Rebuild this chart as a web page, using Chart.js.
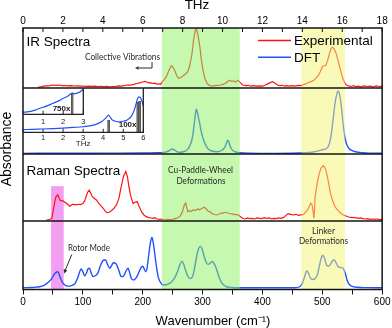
<!DOCTYPE html>
<html>
<head>
<meta charset="utf-8">
<script src="https://cdn.jsdelivr.net/npm/chart.js@4/dist/chart.umd.min.js"></script>
<style>
  html, body { margin: 0; padding: 0; background: #fff; }
  #wrap { position: relative; width: 392px; height: 328px; overflow: hidden; }
  #wrap canvas { position: absolute; }
</style>
</head>
<body>
<div id="wrap">
  <canvas id="main" width="392" height="328" style="left:0;top:0"></canvas>
  <canvas id="inset" width="140" height="70" style="left:13px;top:80px"></canvas>
  <canvas id="inset2" width="78" height="48" style="left:13px;top:80px"></canvas>
</div>
<script>
// ── Данные: [волновое число см⁻¹, интенсивность в долях панели] ───────────
const irExp = [
  [25,0.01],[30,0.02],[35,0.03],[40,0.035],[45,0.04],[50,0.05],[55,0.045],[60,0.05],[65,0.04],[70,0.042],
  [75,0.035],[80,0.04],[85,0.033],[90,0.036],[95,0.03],[100,0.033],[105,0.028],[110,0.032],[115,0.026],[120,0.03],
  [125,0.025],[130,0.028],[135,0.022],[140,0.026],[145,0.02],[150,0.025],[155,0.028],[160,0.035],[165,0.03],[170,0.042],
  [175,0.05],[180,0.048],[185,0.06],[190,0.075],[195,0.085],[200,0.1],[203,0.11],[207,0.1],[210,0.085],[213,0.09],
  [216,0.075],[220,0.08],[224,0.065],[228,0.07],[230,0.06],[232,0.095],[236,0.14],[240,0.2],[244,0.3],[248,0.37],
  [251,0.34],[254,0.28],[257,0.2],[260,0.16],[263,0.17],[267,0.2],[271,0.23],[275,0.27],[278,0.35],[282,0.55],
  [285,0.8],[288,0.97],[290,0.98],[292,0.9],[295,0.72],[298,0.47],[301,0.28],[304,0.15],[308,0.07],[312,0.04],
  [316,0.033],[320,0.038],[325,0.045],[330,0.05],[334,0.06],[338,0.08],[342,0.11],[345,0.13],[348,0.11],[351,0.12],
  [355,0.1],[359,0.13],[363,0.09],[367,0.05],[372,0.04],[376,0.045],[380,0.033],[385,0.04],[390,0.03],[395,0.035],
  [400,0.03],[404,0.045],[408,0.065],[413,0.09],[417,0.105],[421,0.08],[425,0.05],[429,0.04],[433,0.045],[437,0.03],
  [441,0.038],[445,0.03],[450,0.04],[455,0.033],[460,0.045],[465,0.04],[470,0.06],[474,0.075],[478,0.095],[482,0.11],
  [486,0.13],[489,0.16],[493,0.2],[497,0.28],[500,0.355],[503,0.37],[506,0.38],[509,0.46],[512,0.58],[515,0.66],
  [517,0.68],[520,0.65],[523,0.58],[526,0.47],[529,0.35],[532,0.24],[535,0.14],[539,0.06],[543,0.035],[548,0.025],
  [552,0.04],[556,0.022],[560,0.03],[565,0.018],[570,0.035],[575,0.025],[580,0.03],[585,0.02],[590,0.035],[595,0.025],[600,0.03]
];
const irDft = [
  [0,0.01],[50,0.011],[100,0.012],[150,0.013],[200,0.015],[225,0.018],[235,0.022],[241,0.035],[246,0.06],[249.5,0.076],
  [253,0.06],[257,0.035],[261,0.025],[266,0.03],[271,0.045],[275,0.07],[279,0.13],[283,0.25],[286,0.45],[288,0.6],
  [289.5,0.68],[291,0.64],[293,0.56],[295,0.47],[298,0.33],[300,0.26],[303,0.18],[308,0.09],[312,0.06],[317,0.042],
  [323,0.035],[328,0.04],[333,0.06],[337,0.1],[340,0.17],[342,0.21],[344,0.18],[346,0.12],[348,0.08],[351,0.05],
  [355,0.03],[362,0.02],[380,0.013],[420,0.01],[450,0.012],[470,0.018],[485,0.03],[495,0.05],[500,0.065],[505,0.075],
  [509,0.1],[512,0.16],[515,0.3],[518,0.52],[521,0.75],[524,0.9],[526.5,0.955],[529,0.9],[531,0.78],[533,0.62],
  [535,0.44],[538,0.24],[541,0.14],[545,0.08],[550,0.05],[557,0.03],[567,0.02],[580,0.014],[600,0.011]
];
const ramanExp = [
  [39,0.015],[44,0.02],[48,0.04],[50.5,0.16],[53,0.28],[55,0.36],[58,0.39],[60,0.35],[62,0.31],[65,0.3],
  [67,0.3],[70,0.28],[73,0.26],[76,0.24],[78,0.22],[81,0.24],[84,0.25],[87,0.24],[90,0.245],[93,0.25],
  [96,0.245],[100,0.26],[103,0.3],[106,0.38],[108,0.43],[110.5,0.46],[113,0.42],[116,0.36],[119,0.34],[123,0.31],
  [126,0.27],[130,0.23],[134,0.19],[137,0.15],[140,0.125],[144,0.13],[148,0.155],[152,0.19],[156,0.24],[160,0.33],
  [164,0.51],[168,0.67],[171.7,0.74],[174.5,0.66],[177,0.51],[180,0.37],[184,0.26],[187,0.28],[190.5,0.29],[194,0.22],
  [198,0.14],[202,0.09],[206,0.065],[210,0.05],[214,0.045],[217,0.04],[220,0.05],[224,0.03],[228,0.025],[232,0.03],
  [237,0.015],[241,0.025],[245,0.02],[250,0.025],[254,0.035],[258,0.045],[262,0.065],[265,0.11],[267,0.16],[269.5,0.24],
  [271.7,0.27],[273.5,0.2],[275.5,0.14],[278,0.15],[281,0.145],[284,0.165],[287,0.16],[290,0.17],[293,0.18],[295,0.165],
  [299,0.19],[303,0.205],[306,0.18],[309,0.15],[312,0.14],[316,0.11],[319,0.1],[323,0.09],[327,0.1],[331,0.115],
  [335,0.12],[339.5,0.13],[343,0.115],[348,0.105],[352,0.1],[356,0.095],[360,0.09],[364,0.06],[367,0.04],[371,0.03],
  [375,0.045],[379,0.035],[383,0.04],[387,0.03],[391,0.045],[395,0.04],[399,0.035],[403,0.05],[407,0.04],[411,0.045],
  [415,0.03],[419,0.04],[423,0.035],[427,0.045],[431,0.04],[435,0.05],[439,0.08],[443,0.11],[447,0.1],[451,0.09],
  [456,0.1],[460,0.085],[464,0.09],[467,0.09],[471,0.12],[475.5,0.165],[479,0.23],[481,0.265],[483,0.24],[484.5,0.15],
  [486,0.04],[487,0.15],[488,0.36],[490,0.48],[492,0.59],[495,0.71],[498,0.79],[501.7,0.825],[504,0.8],[506,0.76],
  [509,0.64],[511.7,0.51],[514,0.4],[517,0.31],[520,0.24],[523,0.19],[527,0.15],[531,0.115],[535,0.09],[539.5,0.075],
  [544,0.06],[548,0.055],[552,0.05],[556,0.05],[560,0.04],[564,0.045],[568,0.035],[572,0.03],[576,0.035],[580,0.025],
  [584,0.03],[588,0.025],[592,0.03],[596,0.02],[600,0.025]
];
const ramanDft = [
  [0,0.026],[15,0.03],[28,0.04],[35,0.06],[40,0.09],[44,0.12],[48,0.16],[52,0.22],[55,0.25],[58,0.26],
  [60.5,0.22],[63,0.16],[66,0.1],[70,0.066],[74,0.05],[78,0.05],[82,0.06],[87,0.09],[91,0.16],[94,0.24],
  [97,0.3],[100,0.26],[103,0.2],[106,0.24],[108.5,0.3],[111,0.31],[114,0.24],[117,0.19],[121,0.2],[125,0.24],
  [129,0.34],[132,0.4],[135,0.43],[138,0.43],[141,0.37],[145,0.31],[148,0.35],[151,0.39],[155,0.38],[157,0.35],
  [160,0.28],[164,0.19],[166.5,0.19],[169,0.21],[172,0.27],[175.5,0.31],[178,0.25],[181,0.16],[184,0.14],[187,0.15],
  [191,0.2],[195,0.28],[198,0.33],[200,0.34],[202.5,0.3],[205,0.26],[207,0.3],[210,0.5],[213,0.69],[215.5,0.76],
  [218,0.66],[221,0.46],[223.5,0.3],[226,0.18],[230,0.1],[234,0.066],[239,0.07],[245,0.09],[250,0.13],[254,0.18],
  [258,0.26],[262,0.36],[265.5,0.41],[268,0.38],[271,0.3],[275,0.2],[279,0.16],[282,0.17],[285,0.24],[288,0.38],
  [291,0.52],[294,0.61],[296.5,0.63],[299,0.6],[302,0.5],[305,0.42],[308,0.37],[311,0.37],[314,0.4],[316.5,0.41],
  [319,0.38],[322,0.33],[325,0.25],[328,0.17],[331,0.11],[335,0.07],[340,0.04],[348,0.03],[360,0.026],[455,0.026],
  [462,0.04],[466,0.08],[470,0.17],[474,0.27],[477,0.24],[480,0.17],[484,0.145],[488,0.16],[492,0.22],[496,0.38],
  [499,0.48],[501,0.5],[503.5,0.46],[507,0.36],[510,0.34],[513,0.36],[517,0.42],[520,0.43],[523,0.39],[526,0.34],
  [530,0.32],[533,0.32],[536,0.29],[539,0.22],[542,0.12],[546,0.066],[550,0.045],[558,0.032],[570,0.027],[600,0.026]
];
// Врезка (ТГц): DFT-спектр и «палочки» мод
const insetCurve = [
  [0,0.06],[0.5,0.068],[1,0.075],[1.5,0.084],[2,0.095],[2.5,0.11],[3,0.125],[3.4,0.15],[3.7,0.19],[3.95,0.25],
  [4.1,0.31],[4.2,0.36],[4.27,0.39],[4.35,0.34],[4.45,0.28],[4.6,0.25],[4.8,0.235],[5,0.25],[5.2,0.28],[5.4,0.36],
  [5.55,0.5],[5.65,0.66],[5.72,0.77],[5.78,0.8],[5.85,0.78],[5.92,0.72],[6,0.59]
];
const insetSticks = [[4.27,0.27],[5.72,0.68],[5.82,0.7]];
const zoomCurve = [
  [0,0.076],[0.3,0.1],[0.6,0.16],[0.85,0.23],[1.2,0.32],[1.5,0.42],[1.8,0.52],[2,0.61],[2.2,0.68],[2.35,0.76],
  [2.45,0.81],[2.55,0.78],[2.7,0.81],[2.85,0.86],[3,0.96]
];
const zoomSticks = [[2.45,0.8]];

// Диапазоны выделенных областей, см⁻¹
const rotorBand   = [47, 68];
const paddleBand  = [232, 362];
const linkerBand  = [465, 538];

const seriesLabels = ['Experimental', 'DFT'];

// ── Стиль ───────────────────────────────────────────────────────────────
const FONT = "'Liberation Sans', Arial, sans-serif";
const NOTE = "Lato, 'Open Sans', sans-serif";
const RED  = '#ff1212';
const BLUE = '#2050ff';
const INK  = '#141414';

const toXY = pts => pts.map(([x, y]) => ({ x, y }));

function lineSet(label, pts, color, axis, smooth) {
  return {
    label,
    data: toXY(pts),
    yAxisID: axis,
    borderColor: color,
    borderWidth: smooth ? 1.4 : 1.2,
    pointRadius: 0,
    tension: 0,
    cubicInterpolationMode: smooth ? 'monotone' : 'default',
    fill: false,
  };
}

function seg(ctx, x1, y1, x2, y2) {
  ctx.beginPath(); ctx.moveTo(x1, y1); ctx.lineTo(x2, y2); ctx.stroke();
}

function arrowHead(ctx, x, y, ang, size) {
  ctx.beginPath();
  ctx.moveTo(x, y);
  ctx.lineTo(x - size * Math.cos(ang - 0.45), y - size * Math.sin(ang - 0.45));
  ctx.lineTo(x - size * Math.cos(ang + 0.45), y - size * Math.sin(ang + 0.45));
  ctx.closePath();
  ctx.fill();
}

// ── Полосы, рамка, подписи ──────────────────────────────────────────────
const decorPlugin = {
  id: 'decor',
  beforeDatasetsDraw(chart) {
    const { ctx, chartArea: ca, scales } = chart;
    const x = scales.x;
    const top = scales.yRamExp.getPixelForValue(0.52);
    const l = x.getPixelForValue(rotorBand[0]);
    const r = x.getPixelForValue(rotorBand[1]);
    ctx.save();
    ctx.fillStyle = 'rgb(243,158,240)';
    ctx.fillRect(l, top, r - l, ca.bottom - top);
    ctx.restore();
  },
  afterDatasetsDraw(chart) {
    const { ctx, chartArea: ca, scales } = chart;
    const x = scales.x;
    ctx.save();

    // зелёная и жёлтая полосы поверх кривых (полупрозрачные)
    ctx.globalAlpha = 0.5;
    for (const [band, col] of [[paddleBand, 'rgb(141,241,97)'], [linkerBand, 'rgb(245,245,113)']]) {
      const l = x.getPixelForValue(band[0]);
      const r = x.getPixelForValue(band[1]);
      ctx.fillStyle = col;
      ctx.fillRect(l, ca.top, r - l, ca.bottom - ca.top);
    }
    ctx.globalAlpha = 1;

    // рамка и разделители панелей
    ctx.strokeStyle = INK;
    ctx.lineWidth = 1.5;
    ctx.strokeRect(ca.left, ca.top, ca.right - ca.left, ca.bottom - ca.top);
    for (const id of ['yIrExp', 'yIrDft', 'yRamExp']) {
      const yb = Math.round(scales[id].bottom * 2) / 2;
      seg(ctx, ca.left, yb, ca.right, yb);
    }
    // верхние засечки внутрь
    ctx.lineWidth = 1;
    for (const t of scales.xThz.ticks) {
      const px = scales.xThz.getPixelForValue(t.value);
      seg(ctx, px, ca.top, px, ca.top + 4);
    }

    // заголовки панелей
    ctx.fillStyle = '#000';
    ctx.textAlign = 'left';
    ctx.textBaseline = 'alphabetic';
    ctx.font = `13.5px ${FONT}`;
    ctx.fillText('IR Spectra', ca.left + 3.5, 45.5);
    ctx.fillText('Raman Spectra', ca.left + 3.5, 175);

    // легенда
    const legend = [[seriesLabels[0], RED, 40.5, 44.8], [seriesLabels[1], BLUE, 57.3, 61.6]];
    for (const [txt, col, ly, ty] of legend) {
      ctx.strokeStyle = col;
      ctx.lineWidth = 1.4;
      seg(ctx, 258, ly, 291, ly);
      ctx.fillStyle = '#000';
      ctx.fillText(txt, 294, ty);
    }

    // аннотации
    ctx.fillStyle = '#2a2a2a';
    ctx.strokeStyle = '#2a2a2a';
    ctx.textAlign = 'center';
    ctx.font = `9.5px ${NOTE}`;
    ctx.fillText('Collective Vibrations', 122.5, 60, 75);
    ctx.fillText('Cu-Paddle-Wheel', 200.5, 173.3, 65);
    ctx.fillText('Deformations', 201, 183.5, 49);
    ctx.fillText('Linker', 323.5, 234.2, 23);
    ctx.fillText('Deformations', 323.5, 244.3, 49);
    ctx.fillText('Rotor Mode', 89, 250.5, 42);

    // стрелка «Collective Vibrations»
    ctx.lineWidth = 1;
    ctx.beginPath();
    ctx.moveTo(152, 62); ctx.lineTo(152, 68); ctx.lineTo(139, 68);
    ctx.stroke();
    arrowHead(ctx, 135, 68, Math.PI, 4);

    // стрелка «Rotor Mode»
    const ax1 = x.getPixelForValue(81.5), ay1 = 254.5;
    const ax2 = x.getPixelForValue(68.5), ay2 = 273.5;
    seg(ctx, ax1, ay1, ax2 + 1.2, ay2 - 3.2);
    arrowHead(ctx, ax2, ay2, Math.atan2(ay2 - ay1, ax2 - ax1), 4.5);

    // подпись оси Y и оси X
    ctx.fillStyle = '#000';
    ctx.font = `14px ${FONT}`;
    ctx.save();
    ctx.translate(10.8, 149);
    ctx.rotate(-Math.PI / 2);
    ctx.fillText('Absorbance', 0, 0);
    ctx.restore();
    ctx.font = `13px ${FONT}`;
    ctx.fillText('Wavenumber (cm⁻¹)', 213, 325);
    ctx.font = `13.5px ${FONT}`;
    ctx.fillText('THz', 197, 8.5);

    ctx.restore();
  },
};

const tickFont = { family: FONT, size: 10 };

new Chart(document.getElementById('main'), {
  type: 'line',
  data: {
    datasets: [
      lineSet('IR Experimental', irExp, RED, 'yIrExp', false),
      lineSet('IR DFT', irDft, BLUE, 'yIrDft', true),
      lineSet('Raman Experimental', ramanExp, RED, 'yRamExp', false),
      lineSet('Raman DFT', ramanDft, BLUE, 'yRamDft', true),
    ],
  },
  options: {
    responsive: false,
    animation: false,
    events: [],
    layout: { padding: { left: 23, right: 9, top: 0, bottom: 0 } },
    plugins: { legend: { display: false }, tooltip: { enabled: false } },
    scales: {
      x: {
        type: 'linear', position: 'bottom', min: 0, max: 600,
        border: { display: false },
        grid: { drawOnChartArea: false, drawTicks: true, tickLength: 5, color: INK },
        ticks: {
          stepSize: 50, autoSkip: false, maxRotation: 0, padding: 1.5, color: '#000', font: tickFont,
          callback: v => (v % 100 === 0 ? v : ''),
        },
        afterFit: s => { s.height = 38.5; },
      },
      xThz: {
        type: 'linear', position: 'top', min: 0, max: 18,
        border: { display: false },
        grid: { display: false, drawTicks: false },
        ticks: {
          stepSize: 1, autoSkip: false, maxRotation: 0, padding: 0.3, color: '#000', font: tickFont,
          callback: v => (v % 2 === 0 ? v : ''),
        },
        afterFit: s => { s.height = 28; },
      },
      // порядок: нижняя панель первой, верхняя последней
      yRamDft: { display: false, min: 0, max: 1, stack: 'panels', stackWeight: 68.5, position: 'left' },
      yRamExp: { display: false, min: 0, max: 1, stack: 'panels', stackWeight: 67,   position: 'left' },
      yIrDft:  { display: false, min: 0, max: 1, stack: 'panels', stackWeight: 66,   position: 'left' },
      yIrExp:  { display: false, min: 0, max: 1, stack: 'panels', stackWeight: 60,   position: 'left' },
    },
  },
  plugins: [decorPlugin],
});

// ── Врезки ──────────────────────────────────────────────────────────────
const insetFrame = {
  id: 'insetFrame',
  afterDatasetsDraw(chart, args, opts) {
    const { ctx, chartArea: ca, scales: { x, y } } = chart;
    ctx.save();
    ctx.strokeStyle = '#222';
    ctx.lineWidth = 1.3;
    ctx.beginPath();
    ctx.moveTo(ca.left, ca.bottom); ctx.lineTo(ca.right, ca.bottom); ctx.lineTo(ca.right, ca.top);
    ctx.stroke();
    ctx.lineWidth = 1;
    for (const t of x.ticks) {
      const px = x.getPixelForValue(t.value);
      seg(ctx, px, ca.bottom, px, ca.bottom - 3.5);
    }
    if (opts.note) {
      ctx.fillStyle = '#222';
      ctx.font = `bold 8px ${FONT}`;
      ctx.textAlign = 'right';
      ctx.textBaseline = 'middle';
      ctx.fillText(opts.note.text, x.getPixelForValue(opts.note.x), y.getPixelForValue(opts.note.y));
    }
    ctx.restore();
  },
};

function insetChart(id, curve, sticks, maxThz, pad, axisHeight, labelPad, withTitle, note) {
  return new Chart(document.getElementById(id), {
    type: 'line',
    data: {
      datasets: [
        {
          type: 'bar', data: toXY(sticks), backgroundColor: '#6e6e6e',
          borderColor: '#3a3a3a', borderWidth: 0.5, barThickness: 2,
        },
        {
          data: toXY(curve), borderColor: BLUE, borderWidth: 1.2, pointRadius: 0,
          cubicInterpolationMode: 'monotone', fill: false,
        },
      ],
    },
    options: {
      responsive: false,
      animation: false,
      events: [],
      layout: { padding: pad },
      plugins: { legend: { display: false }, tooltip: { enabled: false }, insetFrame: { note } },
      scales: {
        x: {
          type: 'linear', min: 0, max: maxThz, offset: false,
          border: { display: false },
          grid: { display: false, drawTicks: false },
          ticks: {
            stepSize: 1, autoSkip: false, maxRotation: 0, padding: labelPad, color: '#222',
            font: { family: FONT, size: 7.5 },
            callback: v => (v === 0 ? '' : v),
          },
          title: { display: withTitle, text: 'THz', color: '#222', font: { family: FONT, size: 8 }, padding: { top: 0, bottom: 1.4 } },
          afterFit: s => { s.height = axisHeight; },
        },
        y: { display: false, min: 0, max: 1 },
      },
    },
    plugins: [insetFrame],
  });
}

insetChart('inset', insetCurve, insetSticks, 6,
  { left: 10, right: 9.7, top: 8, bottom: 0 }, 17.7, 1.2, true,
  { text: '100x', x: 5.66, y: 0.165 });
insetChart('inset2', zoomCurve, zoomSticks, 3,
  { left: 10, right: 7.7, top: 8, bottom: 0 }, 13.7, 3.5, false,
  { text: '750x', x: 2.36, y: 0.2 });
</script>
</body>
</html>
